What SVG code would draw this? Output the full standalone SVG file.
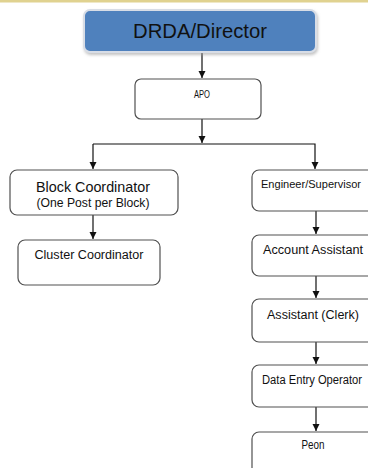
<svg xmlns="http://www.w3.org/2000/svg" width="368" height="468" viewBox="0 0 368 468">
<style>
.box{fill:#fff;stroke:#505050;stroke-width:1.2}
.t{font-family:"Liberation Sans",Arial,sans-serif;fill:#111;text-anchor:middle}
.c{stroke:#111;stroke-width:1.2;fill:none}
</style>
<defs>
<marker id="ah" markerWidth="8" markerHeight="8" refX="7" refY="4" orient="auto" markerUnits="userSpaceOnUse">
<path d="M0,0.5 L7,4 L0,7.5 Z" fill="#111"/>
</marker>
<filter id="sh" x="-10%" y="-20%" width="120%" height="150%">
<feDropShadow dx="1" dy="2" stdDeviation="1.5" flood-color="#999" flood-opacity="0.6"/>
</filter>
</defs>
<rect x="0" y="0" width="368" height="468" fill="#fff"/>
<rect x="0" y="0" width="368" height="2.5" fill="#e0d290"/>
<g id="connectors">
<line class="c" x1="202" y1="53" x2="202" y2="78" marker-end="url(#ah)"/>
<line class="c" x1="202" y1="119" x2="202" y2="143" marker-end="url(#ah)"/>
<polyline class="c" points="93,144 315,144 315,169" marker-end="url(#ah)"/>
<line class="c" x1="93" y1="144" x2="93" y2="169" marker-end="url(#ah)"/>
<line class="c" x1="93" y1="215" x2="93" y2="239" marker-end="url(#ah)"/>
<line class="c" x1="316" y1="211" x2="316" y2="234" marker-end="url(#ah)"/>
<line class="c" x1="316" y1="276" x2="316" y2="298" marker-end="url(#ah)"/>
<line class="c" x1="316" y1="342" x2="316" y2="364" marker-end="url(#ah)"/>
<line class="c" x1="316" y1="407" x2="316" y2="431" marker-end="url(#ah)"/>
</g>
<g id="drda">
<rect x="84" y="10" width="232" height="42" rx="6" fill="#4f81bd" stroke="#d8dde6" stroke-width="2" filter="url(#sh)"/>
<text class="t" x="200" y="38" font-size="20" fill="#1a1a2e" textLength="134" lengthAdjust="spacingAndGlyphs">DRDA/Director</text>
</g>
<g id="apo">
<rect class="box" x="135" y="79" width="126" height="40" rx="6"/>
<text class="t" x="202" y="98" font-size="10" textLength="16" lengthAdjust="spacingAndGlyphs">APO</text>
</g>
<g id="block">
<rect class="box" x="10" y="170" width="168" height="45" rx="7"/>
<text class="t" x="93" y="192" font-size="15" textLength="114" lengthAdjust="spacingAndGlyphs">Block Coordinator</text>
<text class="t" x="93" y="207" font-size="12" textLength="113" lengthAdjust="spacingAndGlyphs">(One Post per Block)</text>
</g>
<g id="cluster">
<rect class="box" x="18" y="240" width="142" height="45" rx="7"/>
<text class="t" x="89" y="259" font-size="12" textLength="109" lengthAdjust="spacingAndGlyphs">Cluster Coordinator</text>
</g>
<g id="engineer">
<rect class="box" x="252" y="170" width="130" height="41" rx="7"/>
<text class="t" x="311" y="188" font-size="11.5" textLength="100" lengthAdjust="spacingAndGlyphs">Engineer/Supervisor</text>
</g>
<g id="account">
<rect class="box" x="252" y="235" width="130" height="41" rx="7"/>
<text class="t" x="313" y="254" font-size="12" textLength="100" lengthAdjust="spacingAndGlyphs">Account Assistant</text>
</g>
<g id="clerk">
<rect class="box" x="252" y="299" width="130" height="43" rx="7"/>
<text class="t" x="313" y="319" font-size="12" textLength="92" lengthAdjust="spacingAndGlyphs">Assistant (Clerk)</text>
</g>
<g id="dataentry">
<rect class="box" x="252" y="365" width="130" height="42" rx="7"/>
<text class="t" x="312" y="384" font-size="12" textLength="100" lengthAdjust="spacingAndGlyphs">Data Entry Operator</text>
</g>
<g id="peon">
<rect class="box" x="252" y="432" width="130" height="45" rx="7"/>
<text class="t" x="313" y="449" font-size="12" textLength="23" lengthAdjust="spacingAndGlyphs">Peon</text>
</g>
</svg>
